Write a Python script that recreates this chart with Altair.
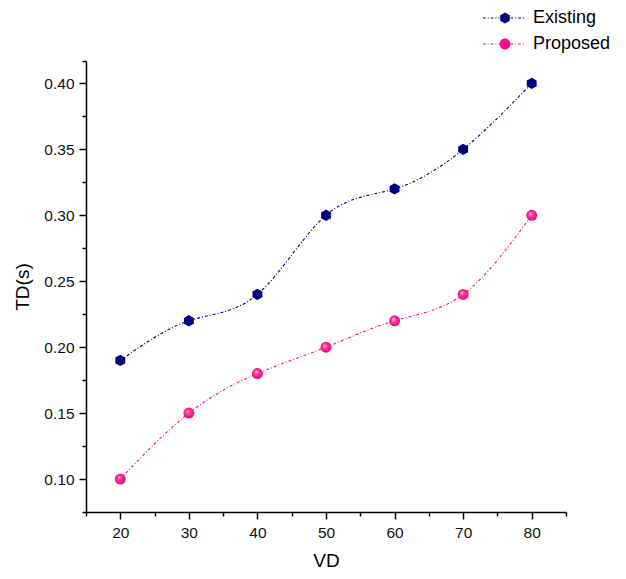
import altair as alt
import pandas as pd

# ---- data ----
vd = [20, 30, 40, 50, 60, 70, 80]
existing = [0.19, 0.22, 0.24, 0.30, 0.32, 0.35, 0.40]
proposed = [0.10, 0.15, 0.18, 0.20, 0.22, 0.24, 0.30]
series = ["Existing", "Proposed"]
colors = ["#000080", "#FF0A84"]

x_major = [20, 30, 40, 50, 60, 70, 80]
x_minor = [15, 25, 35, 45, 55, 65, 75, 85]
y_major = [0.10, 0.15, 0.20, 0.25, 0.30, 0.35, 0.40]
y_minor = [0.075, 0.125, 0.175, 0.225, 0.275, 0.325, 0.375, 0.417]
x_domain = [15, 85]
y_domain = [0.075, 0.417]

df = pd.DataFrame(
    {
        "VD": vd * 2,
        "TD": existing + proposed,
        "Series": ["Existing"] * len(vd) + ["Proposed"] * len(vd),
    }
)

FONT = "Liberation Sans"

# ---- symbol paths (unit size; scaled by Vega) ----
HEX = "M0,-1L0.866,-0.5L0.866,0.5L0,1L-0.866,0.5L-0.866,-0.5Z"
CIRC = "M1,0A1,1,0,1,1,-1,0A1,1,0,1,1,1,0Z"


def dotted_side(start, end, h=0.085):
    pattern = [(0.5, True), (0.36, False), (0.18, True), (0.36, False)]
    out = []
    x = start
    i = 0
    while x < end:
        ln, on = pattern[i % len(pattern)]
        x2 = min(x + ln, end)
        if on:
            out.append(f"M{x:.3f},{-h}H{x2:.3f}V{h}H{x:.3f}Z")
        x = x2
        i += 1
    return "".join(out)


LINE_PATH = dotted_side(-4.0, -1.0) + dotted_side(1.0, 3.7)
LEG_EXIST = HEX + LINE_PATH
LEG_PROP = CIRC + LINE_PATH

xscale = alt.Scale(domain=x_domain, nice=False, zero=False)
yscale = alt.Scale(domain=y_domain, nice=False, zero=False)

base = alt.Chart(df)

lines = base.mark_line(
    interpolate="natural", strokeDash=[3, 2, 1, 2], strokeWidth=1.1
).encode(
    x=alt.X(
        "VD:Q",
        scale=xscale,
        axis=alt.Axis(
            values=x_major,
            format="d",
            orient="bottom",
            grid=False,
            tickSize=7,
            labelPadding=6,
            labelFontSize=15.5,
            title="VD",
            titleFontSize=19,
            titleFontWeight="normal",
            titlePadding=11,
        ),
    ),
    y=alt.Y(
        "TD:Q",
        scale=yscale,
        axis=alt.Axis(
            values=y_major,
            format=".2f",
            orient="left",
            grid=False,
            tickSize=7,
            labelPadding=5,
            labelFontSize=15.5,
            title="TD(s)",
            titleFontSize=19,
            titleFontWeight="normal",
            titlePadding=11,
        ),
    ),
    color=alt.Color(
        "Series:N", scale=alt.Scale(domain=series, range=colors), legend=None
    ),
    detail="Series:N",
)

pts_exist = (
    base.transform_filter(alt.datum.Series == "Existing")
    .mark_point(shape=HEX, filled=True, size=130, color=colors[0], opacity=1)
    .encode(
        x=alt.X("VD:Q", scale=xscale, axis=None),
        y=alt.Y("TD:Q", scale=yscale, axis=None),
    )
)

pink_grad = {
    "gradient": "radial",
    "x1": 0.38,
    "y1": 0.35,
    "r1": 0.0,
    "x2": 0.5,
    "y2": 0.5,
    "r2": 0.55,
    "stops": [
        {"offset": 0.0, "color": "#FFD6EA"},
        {"offset": 0.35, "color": "#FF3D9E"},
        {"offset": 1.0, "color": "#E8007A"},
    ],
}

pts_prop = (
    base.transform_filter(alt.datum.Series == "Proposed")
    .mark_point(shape="circle", filled=True, size=121, fill=pink_grad, opacity=1)
    .encode(
        x=alt.X("VD:Q", scale=xscale, axis=None),
        y=alt.Y("TD:Q", scale=yscale, axis=None),
    )
)

legend_props = dict(
    title=None,
    orient="none",
    legendX=410,
    legendY=-52,
    labelFontSize=18,
    labelFont=FONT,
    labelColor="#000000",
    symbolSize=121,
    labelOffset=19,
    rowPadding=8,
    padding=0,
    symbolStrokeWidth=0,
)

# legend + minor ticks layer (draws no marks itself)
legend_layer = (
    base.transform_filter("false")
    .mark_point(filled=True, opacity=1)
    .encode(
        x=alt.X(
            "VD:Q",
            scale=xscale,
            axis=alt.Axis(
                values=x_minor,
                labels=False,
                domain=False,
                grid=False,
                tickSize=4,
                orient="bottom",
                title=None,
            ),
        ),
        y=alt.Y(
            "TD:Q",
            scale=yscale,
            axis=alt.Axis(
                values=y_minor,
                labels=False,
                domain=False,
                grid=False,
                tickSize=4,
                orient="left",
                title=None,
            ),
        ),
        color=alt.Color(
            "Series:N",
            scale=alt.Scale(domain=series, range=colors),
            legend=alt.Legend(**legend_props),
        ),
        shape=alt.Shape(
            "Series:N",
            scale=alt.Scale(domain=series, range=[LEG_EXIST, LEG_PROP]),
            legend=alt.Legend(**legend_props),
        ),
    )
)

chart = (
    alt.layer(lines, pts_exist, pts_prop, legend_layer)
    .resolve_scale(color="independent", shape="independent")
    .resolve_axis(x="independent", y="independent")
    .properties(
        width=480,
        height=451,
        padding={"left": 78, "top": 53, "right": 50, "bottom": 59},
        autosize=alt.AutoSizeParams(type="none"),
        background="#ffffff",
    )
    .configure_view(stroke=None)
    .configure_axis(
        grid=False,
        domainColor="#000000",
        domainWidth=1.5,
        tickColor="#000000",
        tickWidth=1.5,
        labelColor="#111111",
        titleColor="#000000",
        labelFont=FONT,
        titleFont=FONT,
        titleFontWeight="normal",
    )
)

chart.save("out.html", embed_options={"renderer": "svg", "actions": False})
